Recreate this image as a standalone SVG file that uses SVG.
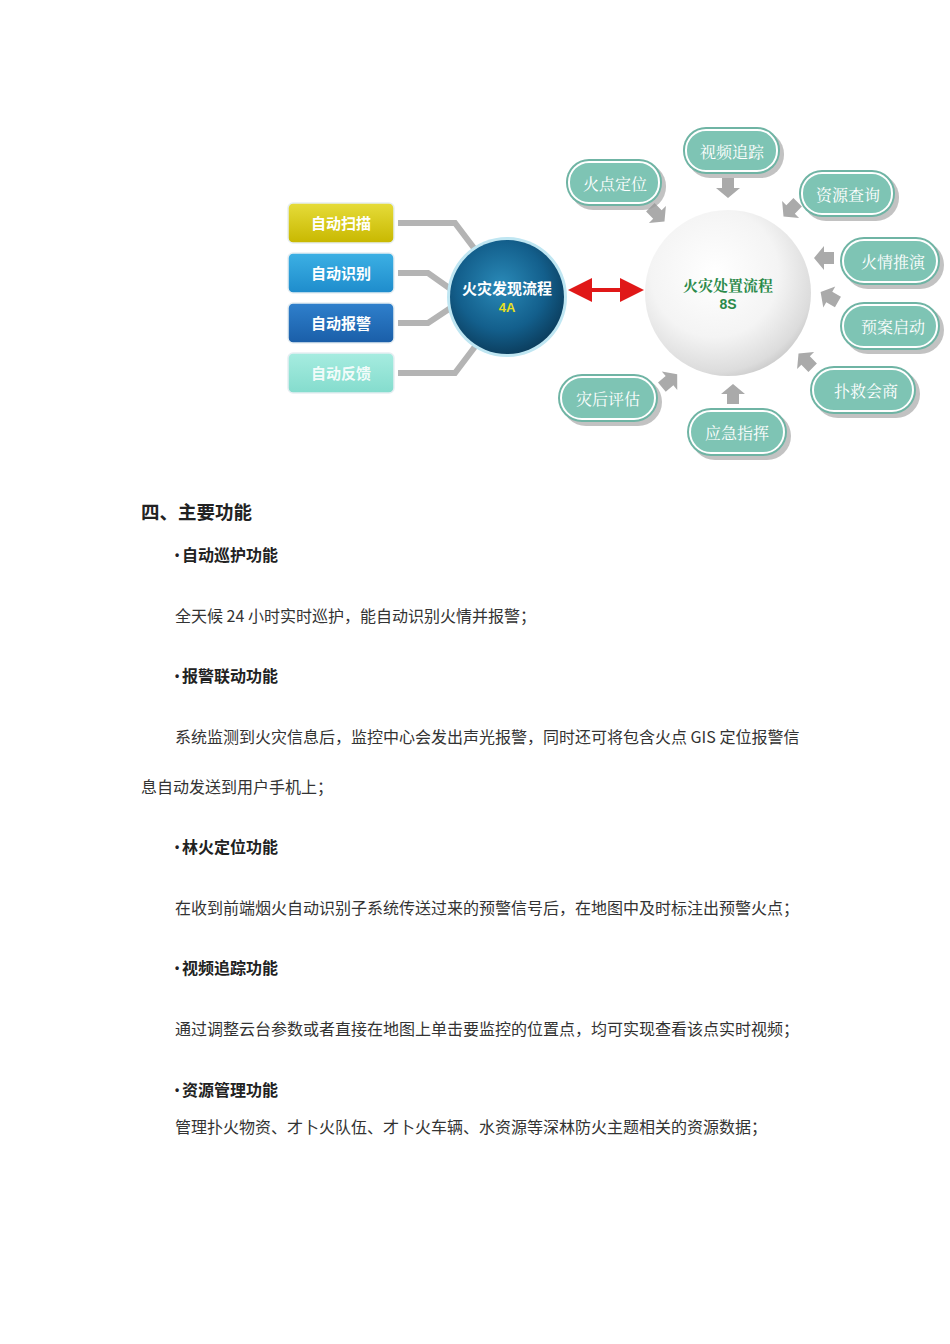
<svg xmlns="http://www.w3.org/2000/svg" width="950" height="1344" viewBox="0 0 950 1344">
<defs>
<radialGradient id="gBlue" cx="0.45" cy="0.4" r="0.65">
<stop offset="0" stop-color="#2a8ab8"/>
<stop offset="0.6" stop-color="#135f8c"/>
<stop offset="1" stop-color="#0a3856"/>
</radialGradient>
<radialGradient id="gWhite" cx="0.42" cy="0.38" r="0.7">
<stop offset="0" stop-color="#ffffff"/>
<stop offset="0.55" stop-color="#f4f4f4"/>
<stop offset="0.85" stop-color="#dcdcdc"/>
<stop offset="1" stop-color="#bdbdbd"/>
</radialGradient>
<linearGradient id="gYellow" x1="0" y1="0" x2="0" y2="1">
<stop offset="0" stop-color="#e6dc3a"/><stop offset="1" stop-color="#c8b800"/>
</linearGradient>
<linearGradient id="gLB" x1="0" y1="0" x2="0" y2="1">
<stop offset="0" stop-color="#3cb0e4"/><stop offset="1" stop-color="#1e8ccc"/>
</linearGradient>
<linearGradient id="gDB" x1="0" y1="0" x2="0" y2="1">
<stop offset="0" stop-color="#2f80cc"/><stop offset="1" stop-color="#1a5ea8"/>
</linearGradient>
<linearGradient id="gCy" x1="0" y1="0" x2="0" y2="1">
<stop offset="0" stop-color="#a6ece0"/><stop offset="1" stop-color="#84dccd"/>
</linearGradient>
<marker id="redHead" markerWidth="6" markerHeight="6" refX="3" refY="3" orient="auto-start-reverse" markerUnits="strokeWidth">
<path d="M0,0 L6,3 L0,6 z" fill="#e01818"/>
</marker>
<path id="garrow" d="M-8,-6 L2,-6 L2,-12 L12,0 L2,12 L2,6 L-8,6 z" fill="#aaaaaa"/>
</defs>
<style>
.box{stroke:#e6eef2;stroke-width:1.5}
.boxt{font-family:"Noto Sans CJK SC",sans-serif;font-size:15px;font-weight:bold;fill:#ffffff;text-anchor:middle}
.conn{fill:none;stroke:#b4b4b4;stroke-width:6;stroke-linejoin:miter}
.pillshadow{fill:#9a9a9a;opacity:0.6}
.pill{fill:#7ec4b4;stroke:#ffffff;stroke-width:2}
.pillouter{fill:#6fb4a4}
.pillt{font-family:"Noto Serif CJK SC","Noto Sans CJK SC",serif;font-size:16px;fill:#ffffff;text-anchor:middle}
.h1{font-family:"Noto Sans CJK SC",sans-serif;font-size:18.5px;font-weight:bold;fill:#222222}
.h2{font-family:"Noto Sans CJK SC",sans-serif;font-size:16px;font-weight:bold;fill:#222222}
.bul{font-family:"Liberation Sans",sans-serif;font-size:12px;font-weight:bold;fill:#222222}
.p{font-family:"Noto Sans CJK SC",sans-serif;font-size:16px;fill:#333333}
</style>

<g id="connectors">
<path class="conn" d="M398,223 H455 L480,256"/>
<path class="conn" d="M398,273 H428 L452,290"/>
<path class="conn" d="M398,323 H428 L452,307"/>
<path class="conn" d="M398,373 H455 L480,340"/>
<line x1="580" y1="290" x2="632" y2="290" stroke="#e01818" stroke-width="4" marker-start="url(#redHead)" marker-end="url(#redHead)"/>
<use href="#garrow" transform="translate(656,213) rotate(45)"/>
<use href="#garrow" transform="translate(728,186) rotate(90)"/>
<use href="#garrow" transform="translate(792,208) rotate(135)"/>
<use href="#garrow" transform="translate(826,258) rotate(180)"/>
<use href="#garrow" transform="translate(831,298) rotate(-150)"/>
<use href="#garrow" transform="translate(807,362) rotate(-135)"/>
<use href="#garrow" transform="translate(733,396) rotate(-90)"/>
<use href="#garrow" transform="translate(668,382) rotate(-40)"/>
</g>

<g id="n-scan"><rect class="box" x="288" y="203" width="106" height="40" rx="5" fill="url(#gYellow)"/><text class="boxt" x="341" y="229">自动扫描</text></g>
<g id="n-identify"><rect class="box" x="288" y="253" width="106" height="40" rx="5" fill="url(#gLB)"/><text class="boxt" x="341" y="279">自动识别</text></g>
<g id="n-alarm"><rect class="box" x="288" y="303" width="106" height="40" rx="5" fill="url(#gDB)"/><text class="boxt" x="341" y="329">自动报警</text></g>
<g id="n-feedback"><rect class="box" x="288" y="353" width="106" height="40" rx="5" fill="url(#gCy)"/><text class="boxt" x="341" y="379" fill-opacity="0.9">自动反馈</text></g>

<g id="n-discover">
<circle cx="507" cy="297" r="60" fill="#bfe6f2"/>
<circle cx="507" cy="297" r="57" fill="url(#gBlue)"/>
<text x="507" y="294" font-family="Noto Sans CJK SC,sans-serif" font-size="15" font-weight="bold" fill="#ffffff" text-anchor="middle">火灾发现流程</text>
<text x="507" y="312" font-family="Liberation Sans,sans-serif" font-size="13" font-weight="bold" fill="#e8e020" text-anchor="middle">4A</text>
</g>

<g id="n-dispose">
<circle cx="728" cy="293" r="83" fill="url(#gWhite)"/>
<text x="728" y="291" font-family="Noto Serif CJK SC,Noto Sans CJK SC,serif" font-size="15" font-weight="bold" fill="#2a8a4a" text-anchor="middle">火灾处置流程</text>
<text x="728" y="309" font-family="Liberation Sans,sans-serif" font-size="14" font-weight="bold" fill="#2a8a4a" text-anchor="middle">8S</text>
</g>

<g id="p-locate"><rect class="pillshadow" x="570" y="163" width="96" height="47" rx="23"/><rect class="pillouter" x="566" y="159" width="96" height="47" rx="23"/><rect class="pill" x="569" y="162" width="90" height="41" rx="20"/><text class="pillt" x="615" y="190">火点定位</text></g>
<g id="p-video"><rect class="pillshadow" x="687" y="131" width="97" height="47" rx="23"/><rect class="pillouter" x="683" y="127" width="97" height="47" rx="23"/><rect class="pill" x="686" y="130" width="91" height="41" rx="20"/><text class="pillt" x="732" y="158">视频追踪</text></g>
<g id="p-resource"><rect class="pillshadow" x="803" y="174" width="96" height="47" rx="23"/><rect class="pillouter" x="799" y="170" width="96" height="47" rx="23"/><rect class="pill" x="802" y="173" width="90" height="41" rx="20"/><text class="pillt" x="848" y="201">资源查询</text></g>
<g id="p-deduce"><rect class="pillshadow" x="844" y="241" width="100" height="48" rx="24"/><rect class="pillouter" x="840" y="237" width="100" height="48" rx="24"/><rect class="pill" x="843" y="240" width="94" height="42" rx="21"/><text class="pillt" x="893" y="268">火情推演</text></g>
<g id="p-plan"><rect class="pillshadow" x="844" y="306" width="100" height="48" rx="24"/><rect class="pillouter" x="840" y="302" width="100" height="48" rx="24"/><rect class="pill" x="843" y="305" width="94" height="42" rx="21"/><text class="pillt" x="893" y="333">预案启动</text></g>
<g id="p-consult"><rect class="pillshadow" x="814" y="370" width="106" height="48" rx="24"/><rect class="pillouter" x="810" y="366" width="106" height="48" rx="24"/><rect class="pill" x="813" y="369" width="100" height="42" rx="21"/><text class="pillt" x="866" y="397">扑救会商</text></g>
<g id="p-command"><rect class="pillshadow" x="691" y="412" width="100" height="48" rx="24"/><rect class="pillouter" x="687" y="408" width="100" height="48" rx="24"/><rect class="pill" x="690" y="411" width="94" height="42" rx="21"/><text class="pillt" x="737" y="439">应急指挥</text></g>
<g id="p-assess"><rect class="pillshadow" x="562" y="378" width="100" height="48" rx="24"/><rect class="pillouter" x="558" y="374" width="100" height="48" rx="24"/><rect class="pill" x="561" y="377" width="94" height="42" rx="21"/><text class="pillt" x="608" y="405">灾后评估</text></g>

<g id="body-text">
<text class="h1" x="141" y="519">四、主要功能</text>
<text class="bul" x="175" y="559">•</text><text class="h2" x="182" y="561">自动巡护功能</text>
<text class="p" x="175" y="622">全天候 24 小时实时巡护，能自动识别火情并报警；</text>
<text class="bul" x="175" y="680">•</text><text class="h2" x="182" y="682">报警联动功能</text>
<text class="p" x="175" y="743">系统监测到火灾信息后，监控中心会发出声光报警，同时还可将包含火点 GIS 定位报警信</text>
<text class="p" x="141" y="793">息自动发送到用户手机上；</text>
<text class="bul" x="175" y="851">•</text><text class="h2" x="182" y="853">林火定位功能</text>
<text class="p" x="175" y="914">在收到前端烟火自动识别子系统传送过来的预警信号后，在地图中及时标注出预警火点；</text>
<text class="bul" x="175" y="972">•</text><text class="h2" x="182" y="974">视频追踪功能</text>
<text class="p" x="175" y="1035">通过调整云台参数或者直接在地图上单击要监控的位置点，均可实现查看该点实时视频；</text>
<text class="bul" x="175" y="1094">•</text><text class="h2" x="182" y="1096">资源管理功能</text>
<text class="p" x="175" y="1133">管理扑火物资、才卜火队伍、才卜火车辆、水资源等深林防火主题相关的资源数据；</text>
</g>
</svg>
